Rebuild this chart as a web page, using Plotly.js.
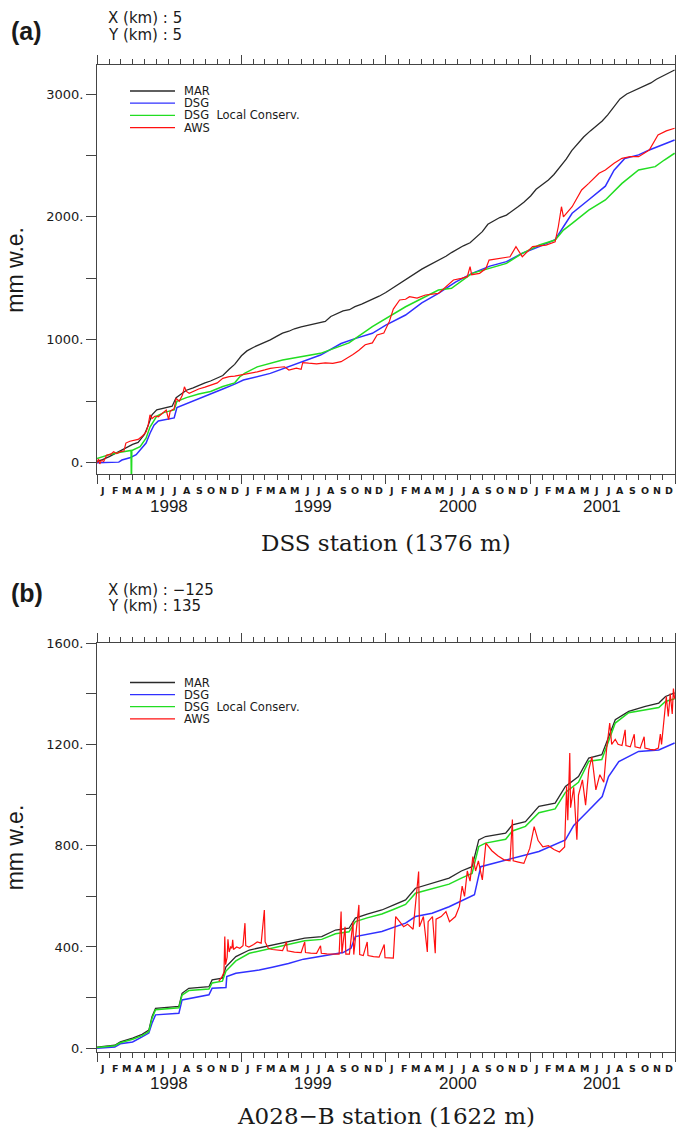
<!DOCTYPE html>
<html>
<head>
<meta charset="utf-8">
<script src="https://cdn.plot.ly/plotly-3.0.1.min.js"></script>
<style>html,body{margin:0;padding:0;background:#fff;}#chart{width:676px;height:1129px;}</style>
</head>
<body>
<div id="chart"></div>
<script>
// ---------- tick labels ----------
const monthLetters = ['J','F','M','A','M','J','J','A','S','O','N','D'];
const years = [1998, 1999, 2000, 2001];
const yTickValsA = [0, 1000, 2000, 3000];
const yTickTextA = ['0.', '1000.', '2000.', '3000.'];
const yTickValsB = [0, 400, 800, 1200, 1600];
const yTickTextB = ['0.', '400.', '800.', '1200.', '1600.'];
const seriesNames = ['MAR', 'DSG', 'DSG\u00a0\u00a0Local Conserv.', 'AWS'];

// ---------- panel (a): DSS station ----------
const aMarDates = ['1998-01-01','1998-01-15','1998-02-01','1998-02-15','1998-03-01','1998-03-15','1998-04-01','1998-04-15','1998-05-01','1998-05-10','1998-05-20','1998-06-01','1998-06-15','1998-07-01','1998-07-10','1998-07-20','1998-08-01','1998-08-15','1998-09-01','1998-09-15','1998-10-01','1998-10-15','1998-11-01','1998-11-15','1998-12-01','1998-12-15','1999-01-01','1999-01-15','1999-02-01','1999-02-15','1999-03-01','1999-03-15','1999-04-01','1999-04-15','1999-05-01','1999-05-15','1999-06-01','1999-06-15','1999-07-01','1999-07-15','1999-08-01','1999-08-15','1999-09-01','1999-09-15','1999-10-01','1999-10-15','1999-11-01','1999-11-15','1999-12-01','1999-12-15','2000-01-01','2000-01-15','2000-02-01','2000-02-15','2000-03-01','2000-03-15','2000-04-01','2000-04-15','2000-05-01','2000-05-15','2000-06-01','2000-06-15','2000-07-01','2000-07-15','2000-08-01','2000-08-15','2000-09-01','2000-09-15','2000-10-01','2000-10-15','2000-11-01','2000-11-15','2000-12-01','2000-12-15','2001-01-01','2001-01-15','2001-02-01','2001-02-15','2001-03-01','2001-03-15','2001-04-01','2001-04-15','2001-05-01','2001-05-15','2001-06-01','2001-06-15','2001-07-01','2001-07-15','2001-08-01','2001-08-15','2001-09-01','2001-09-15','2001-10-01','2001-10-15','2001-11-01','2001-11-15','2001-12-01','2001-12-15','2001-12-31'];
const aMarVals = [10,25,50,75,95,120,150,165,230,300,390,430,440,450,460,530,560,590,610,630,650,665,690,710,760,800,870,910,940,960,975,1000,1030,1055,1070,1090,1105,1115,1125,1135,1150,1190,1215,1235,1245,1270,1290,1310,1330,1355,1385,1415,1450,1480,1510,1540,1575,1600,1625,1650,1680,1710,1740,1765,1790,1830,1880,1940,1970,1995,2015,2045,2085,2120,2170,2225,2265,2300,2345,2400,2470,2540,2600,2650,2700,2740,2780,2830,2900,2960,3000,3020,3045,3065,3090,3120,3145,3165,3195];

const aDsgDates = ['1998-01-01','1998-02-01','1998-02-25','1998-03-05','1998-03-25','1998-04-10','1998-04-25','1998-05-05','1998-05-15','1998-05-25','1998-06-05','1998-07-01','1998-07-15','1998-07-22','1998-08-15','1998-09-15','1998-10-15','1998-11-15','1998-12-15','1999-01-06','1999-03-15','1999-06-07','1999-07-20','1999-09-10','1999-10-15','1999-11-28','2000-01-01','2000-02-20','2000-04-01','2000-05-13','2000-06-25','2000-08-06','2000-09-20','2000-11-01','2000-12-11','2001-01-23','2001-03-04','2001-03-25','2001-04-16','2001-05-28','2001-07-09','2001-07-31','2001-08-27','2001-10-01','2001-10-28','2001-12-31'];
const aDsgVals = [0,0,5,22,40,65,120,160,240,305,340,355,365,450,480,520,560,600,640,673,727,822,876,970,1010,1053,1120,1202,1300,1378,1470,1541,1600,1636,1704,1758,1815,1920,2030,2140,2250,2380,2475,2505,2545,2626];

const aDsgLcDates = ['1998-01-01','1998-01-20','1998-02-05','1998-03-01','1998-03-28','1998-03-29','1998-03-30','1998-04-20','1998-05-05','1998-05-15','1998-06-01','1998-06-20','1998-07-15','1998-07-22','1998-08-15','1998-09-15','1998-10-15','1998-11-15','1998-12-15','1998-12-28','1999-01-10','1999-02-10','1999-04-15','1999-07-20','1999-09-30','1999-11-28','2000-02-20','2000-05-13','2000-06-15','2000-08-06','2000-11-01','2000-12-11','2001-01-23','2001-03-04','2001-03-25','2001-04-16','2001-05-28','2001-07-09','2001-08-20','2001-10-01','2001-11-12','2001-12-05','2001-12-31'];
const aDsgLcVals = [35,55,70,85,100,-200,100,130,200,290,380,410,430,500,530,560,580,620,650,700,730,780,836,890,975,1107,1269,1405,1419,1541,1622,1704,1771,1812,1893,1948,2056,2138,2273,2382,2409,2463,2518];

const aAwsDates = ['1998-01-01','1998-01-05','1998-01-08','1998-01-12','1998-01-18','1998-01-25','1998-02-05','1998-02-12','1998-02-20','1998-03-01','1998-03-10','1998-03-15','1998-03-25','1998-04-05','1998-04-15','1998-04-25','1998-05-05','1998-05-10','1998-05-15','1998-05-20','1998-05-28','1998-06-05','1998-06-15','1998-06-25','1998-07-01','1998-07-05','1998-07-15','1998-07-20','1998-07-28','1998-08-05','1998-08-10','1998-08-15','1998-08-22','1998-09-01','1998-09-15','1998-10-01','1998-10-15','1998-11-01','1998-11-15','1998-12-01','1998-12-15','1999-01-01','1999-01-20','1999-02-10','1999-03-01','1999-03-15','1999-04-01','1999-04-20','1999-05-01','1999-05-20','1999-06-01','1999-06-05','1999-06-20','1999-07-10','1999-08-01','1999-08-20','1999-09-10','1999-09-25','1999-10-10','1999-10-25','1999-11-10','1999-11-28','1999-12-10','1999-12-27','2000-01-10','2000-01-20','2000-02-05','2000-02-20','2000-03-01','2000-03-20','2000-04-10','2000-05-13','2000-06-01','2000-06-20','2000-07-10','2000-07-25','2000-08-01','2000-08-05','2000-08-25','2000-09-10','2000-09-18','2000-10-10','2000-11-10','2000-11-25','2000-12-11','2001-01-06','2001-02-09','2001-03-04','2001-03-12','2001-03-20','2001-03-25','2001-04-16','2001-05-10','2001-05-28','2001-06-23','2001-07-09','2001-07-31','2001-08-20','2001-09-10','2001-10-01','2001-10-28','2001-11-19','2001-12-10','2001-12-31'];
const aAwsVals = [0,30,-10,20,10,60,70,90,75,90,95,160,175,185,190,215,250,300,390,360,380,374,400,429,350,420,440,524,500,550,618,580,565,580,600,615,632,650,687,700,705,714,725,740,755,768,775,781,754,770,760,815,810,805,812,808,822,850,880,915,960,975,1039,1055,1150,1250,1324,1330,1351,1340,1365,1378,1432,1487,1500,1514,1595,1530,1541,1580,1649,1660,1676,1758,1676,1758,1771,1798,1920,2083,2000,2083,2219,2273,2355,2382,2436,2477,2490,2490,2544,2667,2700,2721];

// ---------- panel (b): A028-B station ----------
const bMarDates = ['1998-01-01','1998-02-15','1998-03-01','1998-04-01','1998-04-25','1998-05-12','1998-05-20','1998-05-29','1998-07-27','1998-08-04','1998-08-21','1998-10-11','1998-10-19','1998-11-14','1998-11-23','1998-12-18','1999-01-21','1999-03-02','1999-04-30','1999-06-10','1999-07-23','1999-08-27','1999-09-30','1999-10-16','1999-11-15','1999-12-22','2000-01-20','2000-02-20','2000-03-16','2000-04-27','2000-06-09','2000-07-10','2000-08-06','2000-08-23','2000-09-09','2000-10-30','2000-11-16','2000-12-19','2001-01-22','2001-03-04','2001-03-30','2001-05-02','2001-05-28','2001-06-30','2001-07-17','2001-08-03','2001-09-06','2001-10-18','2001-11-21','2001-12-08','2001-12-31'];
const bMarVals = [5,12,25,40,55,72,125,158,165,217,237,243,270,277,322,362,388,401,421,435,441,467,474,514,530,546,565,586,632,652,672,700,717,823,836,849,882,895,955,968,1034,1073,1146,1159,1231,1297,1330,1350,1363,1389,1403];

const bDsgLcVals = [3,10,22,36,50,66,118,152,160,210,228,234,258,265,305,345,375,390,412,425,430,452,460,500,515,530,548,568,612,630,648,672,690,797,810,825,858,876,930,945,1010,1050,1133,1140,1215,1284,1325,1335,1345,1369,1380];

const bDsgDates = ['1998-01-01','1998-02-15','1998-03-01','1998-04-01','1998-04-25','1998-05-12','1998-05-20','1998-05-29','1998-07-27','1998-08-04','1998-10-11','1998-10-19','1998-11-23','1998-11-25','1998-12-18','1999-01-21','1999-02-15','1999-03-20','1999-04-30','1999-06-07','1999-07-20','1999-08-27','1999-09-15','1999-10-05','1999-10-16','1999-12-22','2000-02-20','2000-03-16','2000-04-27','2000-06-09','2000-07-20','2000-08-12','2000-08-28','2000-11-16','2001-01-22','2001-03-30','2001-04-20','2001-05-25','2001-07-01','2001-07-17','2001-08-12','2001-10-01','2001-11-21','2001-12-31'];
const bDsgVals = [0,5,18,25,45,60,99,132,138,191,211,237,240,283,296,303,309,320,335,352,362,372,378,395,441,461,494,520,533,559,590,606,717,751,777,823,880,935,994,1073,1132,1172,1178,1205];

const bAwsDates = ['1998-11-05','1998-11-12','1998-11-18','1998-11-20','1998-11-22','1998-11-26','1998-11-28','1998-12-01','1998-12-05','1998-12-08','1998-12-10','1998-12-12','1998-12-20','1998-12-28','1999-01-05','1999-01-10','1999-01-12','1999-01-20','1999-02-01','1999-02-10','1999-02-20','1999-02-28','1999-03-02','1999-03-10','1999-03-20','1999-04-01','1999-04-15','1999-04-25','1999-04-27','1999-05-15','1999-06-01','1999-06-10','1999-06-12','1999-06-25','1999-07-10','1999-07-20','1999-07-22','1999-08-05','1999-08-20','1999-09-05','1999-09-10','1999-09-12','1999-09-20','1999-09-22','1999-10-01','1999-10-10','1999-10-12','1999-10-25','1999-10-27','1999-11-05','1999-11-15','1999-11-17','1999-12-01','1999-12-15','1999-12-28','1999-12-30','2000-01-20','2000-01-26','2000-02-05','2000-02-15','2000-02-25','2000-03-10','2000-03-24','2000-03-26','2000-04-05','2000-04-15','2000-04-17','2000-04-28','2000-05-05','2000-05-07','2000-05-20','2000-06-01','2000-06-10','2000-06-25','2000-07-05','2000-07-12','2000-07-18','2000-07-25','2000-08-01','2000-08-08','2000-08-15','2000-08-22','2000-09-01','2000-09-10','2000-09-25','2000-10-10','2000-10-25','2000-11-10','2000-11-16','2000-11-18','2000-12-01','2000-12-15','2000-12-30','2001-01-10','2001-01-20','2001-02-01','2001-02-15','2001-03-01','2001-03-15','2001-03-28','2001-04-02','2001-04-05','2001-04-10','2001-04-12','2001-04-20','2001-04-28','2001-05-02','2001-05-12','2001-05-20','2001-05-28','2001-06-05','2001-06-15','2001-06-25','2001-07-05','2001-07-12','2001-07-20','2001-07-25','2001-08-03','2001-08-10','2001-08-20','2001-08-28','2001-08-30','2001-09-10','2001-09-20','2001-09-22','2001-10-05','2001-10-15','2001-10-17','2001-10-30','2001-11-10','2001-11-20','2001-11-25','2001-11-28','2001-12-05','2001-12-10','2001-12-15','2001-12-20','2001-12-25','2001-12-28','2001-12-31'];
const bAwsVals = [265,280,300,441,330,360,430,380,400,395,428,390,400,395,405,494,405,400,410,420,415,546,420,395,390,388,386,420,385,380,378,420,378,376,375,405,375,373,372,372,540,375,480,372,372,500,370,566,370,366,420,366,362,360,410,358,356,520,500,480,490,470,698,480,520,380,500,520,375,510,520,540,500,520,560,640,600,700,660,757,700,740,665,810,780,760,745,740,903,740,735,730,790,875,820,795,800,785,775,795,1034,900,1166,950,1030,823,1000,1060,960,1100,1150,1020,1080,1050,1180,1284,1200,1220,1200,1195,1257,1195,1190,1240,1190,1185,1230,1185,1180,1178,1185,1240,1200,1300,1389,1310,1400,1320,1420,1380];

// ---------- styles ----------
const colors = ['#2a2a2a', '#3030ff', '#22dd22', '#ff1010'];
const widths = [1.3, 1.5, 1.5, 1.2];
const txt = '#1a1a1a';
const axc = '#444';

function mk(x, y, i, xa, ya) {
  return {x: x, y: y, type: 'scatter', mode: 'lines', xaxis: xa, yaxis: ya,
    line: {color: colors[i], width: widths[i]}, showlegend: false, hoverinfo: 'skip'};
}
const traces = [
  mk(aMarDates, aMarVals, 0, 'x', 'y'),
  mk(aDsgDates, aDsgVals, 1, 'x', 'y'),
  mk(aDsgLcDates, aDsgLcVals, 2, 'x', 'y'),
  mk(aAwsDates, aAwsVals, 3, 'x', 'y'),
  mk(bMarDates, bMarVals, 0, 'x2', 'y2'),
  mk(bDsgDates, bDsgVals, 1, 'x2', 'y2'),
  mk(bMarDates, bDsgLcVals, 2, 'x2', 'y2'),
  mk(bAwsDates, bAwsVals, 3, 'x2', 'y2')
];

const H = 1129;
const xRange = ['1998-01-01', '2002-01-01'];
const pa = {top: 65, bot: 474.3};
const pb = {top: 643, bot: 1051.7};
const dom = p => [1 - p.bot / H, 1 - p.top / H];

// month-letter positions (mid month)
const monthMid = [], monthTxt = [];
years.forEach(yr => monthLetters.forEach((l, m) => {
  monthMid.push(yr + '-' + String(m + 1).padStart(2, '0') + '-16');
  monthTxt.push(l);
}));

function mainX(anchor) {
  return {type: 'date', range: xRange, anchor: anchor, showline: true, linecolor: axc, linewidth: 1,
    mirror: 'ticks', ticks: 'outside', ticklen: 9, tickwidth: 1, tickcolor: axc,
    tickmode: 'linear', tick0: '1998-01-01', dtick: 'M12', showticklabels: false, showgrid: false, zeroline: false,
    minor: {tickmode: 'linear', tick0: '1998-01-01', dtick: 'M1', ticks: 'outside', ticklen: 5, tickwidth: 1, tickcolor: axc, showgrid: false}};
}
function yAx(p, range, vals, text, minorD) {
  return {domain: dom(p), range: range, showline: true, linecolor: axc, linewidth: 1, mirror: true,
    ticks: 'outside', ticklen: 10, tickwidth: 1, tickcolor: axc, tickmode: 'array', tickvals: vals, ticktext: text,
    showgrid: false, zeroline: false, tickfont: {family: 'DejaVu Sans', size: 13, color: txt},
    minor: {tickmode: 'linear', tick0: 0, dtick: minorD, ticks: 'outside', ticklen: 10, tickwidth: 1, tickcolor: axc, showgrid: false}};
}

const annotations = [];
const shapes = [];
const yp = py => 1 - py / H;
function addText(text, x, y, font, xanchor, extra) {
  annotations.push(Object.assign({text: text, xref: 'paper', yref: 'paper', x: x, y: yp(y), xanchor: xanchor || 'left',
    yanchor: 'middle', showarrow: false, font: font}, extra || {}));
}
const W = 676, L = 97, R = 1;
const px = v => (v - L) / (W - L - R);

function panelDecor(p, xref, tag, xkm, ykm, title, tagY, xY, yY, legY, legStep, titleOff) {
  addText(tag, px(9), tagY, {family: 'Liberation Sans', size: 25, color: txt, weight: 'bold'});
  addText('X (km) :\u00a0' + xkm, px(106), xY, {family: 'DejaVu Sans', size: 15, color: txt});
  addText('Y (km) :\u00a0' + ykm, px(106), yY, {family: 'DejaVu Sans', size: 15, color: txt});
  addText('mm w.e.', px(15), (p.top + p.bot) / 2, {family: 'Liberation Sans', size: 23, color: txt}, 'center', {textangle: -90});
  addText(title, px(386), p.bot + titleOff, {family: 'DejaVu Serif', size: 23, color: txt}, 'center');
  // month letters
  monthMid.forEach((d, k) => annotations.push({text: monthTxt[k], xref: xref, yref: 'paper', x: d,
    y: yp(p.bot + 16.5), xanchor: 'center', yanchor: 'middle', showarrow: false,
    font: {family: 'DejaVu Sans', size: 9.5, color: txt, weight: 'bold'}}));
  // year labels
  years.forEach(yr => annotations.push({text: String(yr), xref: xref, yref: 'paper',
    x: yr + '-07-01', y: yp(p.bot + 32), xanchor: 'center', yanchor: 'middle', showarrow: false,
    font: {family: 'Liberation Sans', size: 17, color: txt}}));
  // legend
  seriesNames.forEach((nm, i) => {
    const yy = legY + i * legStep;
    shapes.push({type: 'line', xref: 'paper', yref: 'paper', x0: px(130), x1: px(175), y0: yp(yy), y1: yp(yy),
      line: {color: colors[i], width: 1.3}});
    addText(nm, px(182), yy, {family: 'DejaVu Sans', size: 11.5, color: txt});
  });
}
panelDecor(pa, 'x', '(a)', '5', '5', 'DSS station (1376 m)', 31, 18, 35, 91, 12.2, 69);
panelDecor(pb, 'x2', '(b)', '\u2212125', '135', 'A028\u2212B station (1622 m)', 593, 590, 606, 682.5, 12.1, 64);

const layout = {
  width: 676, height: H, margin: {l: L, r: R, t: 0, b: 0}, paper_bgcolor: '#fff', plot_bgcolor: '#fff',
  showlegend: false,
  xaxis: mainX('y'), xaxis2: mainX('y2'),
  yaxis: yAx(pa, [-94, 3236], yTickValsA, yTickTextA, 500),
  yaxis2: yAx(pb, [-13.4, 1600], yTickValsB, yTickTextB, 200),
  annotations: annotations, shapes: shapes
};

Plotly.newPlot('chart', traces, layout, {staticPlot: true, displayModeBar: false});
</script>
</body>
</html>
